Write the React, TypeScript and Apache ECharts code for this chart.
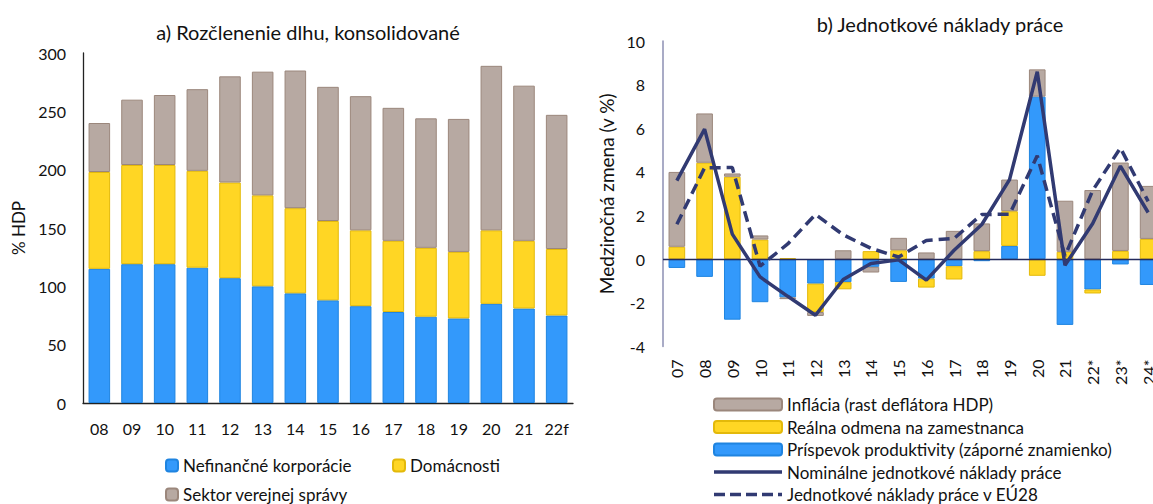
import React, { useEffect, useRef } from "react";
import * as echarts from "echarts";

// ---- Left panel: debt breakdown (% HDP) ----
const leftCategories = ["08", "09", "10", "11", "12", "13", "14", "15", "16", "17", "18", "19", "20", "21", "22f"];
const nefinancne = [115, 119, 119, 116, 107, 100, 94, 88, 83, 78, 74, 72.5, 85, 81, 75];
const domacnosti = [83, 85, 85, 83, 82, 78, 73, 68, 65, 61, 59, 57, 63, 58, 57];
const sektor = [42, 56, 60, 70, 91, 106, 118, 115, 115, 114, 111, 114, 141, 133, 115];
const leftTicks = { min: 0, max: 300, interval: 50 };

// ---- Right panel: unit labour costs (y/y %) ----
const rightCategories = ["07", "08", "09", "10", "11", "12", "13", "14", "15", "16", "17", "18", "19", "20", "21", "22*", "23*", "24*"];
const produktivita = [-0.4, -0.81, -2.77, -1.97, -1.75, -1.12, -1.05, -0.35, -1.04, -0.89, -0.32, -0.09, 0.61, 7.45, -3.01, -1.39, -0.24, -1.18];
const realnaOdmena = [0.57, 4.42, 3.78, 0.9, 0.05, -1.3, -0.33, 0.37, 0.41, -0.41, -0.61, 0.37, 1.59, -0.76, 0.34, -0.18, 0.38, 0.93];
const inflacia = [3.43, 2.26, 0.15, 0.19, -0.08, -0.18, 0.41, -0.26, 0.57, 0.31, 1.3, 1.27, 1.45, 1.25, 2.34, 3.17, 4.05, 2.43];
const nominalne = [3.6, 5.96, 1.15, -0.81, -1.7, -2.57, -0.93, -0.2, -0.03, -0.96, 0.41, 1.59, 3.65, 8.59, -0.28, 1.64, 4.27, 2.14];
const eu28 = [1.6, 4.19, 4.2, -0.32, 0.7, 2.05, 1.12, 0.5, 0.1, 0.86, 0.95, 2.05, 2.06, 4.74, 0.15, 3.15, 5.1, 2.65];
const rightTicks = { min: -4, max: 10, interval: 2 };

const FONT = "Lato, 'Open Sans', sans-serif";
const BLUE = "#3399fb";
const BLUE_B = "#1f84e0";
const YELLOW = "#ffd624";
const YELLOW_B = "#e3b90a";
const GRAY = "#b7a9a2";
const GRAY_B = "#9b877c";
const NAVY = "#313a72";
const TXT = "#111111";

const SOLID_ICON =
  "path://M0,0h0.01v0.01h-0.01z M0,4.2h68v3.6h-68z M67.99,11.99h0.01v0.01h-0.01z";
const DASH_ICON =
  "path://M0,0h0.01v0.01h-0.01z M0,4.2h11v3.6h-11z M16,4.2h11v3.6h-11z M32,4.2h11v3.6h-11z M48,4.2h11v3.6h-11z M64,4.2h4v3.6h-4z M67.99,11.99h0.01v0.01h-0.01z";

export default function App() {
  const ref = useRef<HTMLDivElement>(null);

  useEffect(() => {
    if (!ref.current) return;
    const chart = echarts.init(ref.current, null, { renderer: "svg" });
    const barItem = (c: string, b: string) => ({ color: c, borderColor: b, borderWidth: 1 });
    const leftLegend = (name: string, left: number, top: number) => ({
      data: [name],
      left,
      top,
      padding: 0,
      itemWidth: 12,
      itemHeight: 12,
      textStyle: { fontFamily: FONT, fontSize: 17, color: TXT, lineHeight: 16 },
      selectedMode: false,
    });

    chart.setOption({
      animation: false,
      textStyle: { fontFamily: FONT, color: TXT },
      title: [
        {
          text: "a) Rozčlenenie dlhu, konsolidované",
          left: 303,
          top: 17,
          textAlign: "center",
          textStyle: { fontFamily: FONT, fontSize: 20, fontWeight: "normal", color: TXT },
        },
        {
          text: "b) Jednotkové náklady práce",
          left: 935,
          top: 9,
          textAlign: "center",
          textStyle: { fontFamily: FONT, fontSize: 20, fontWeight: "normal", color: TXT },
        },
      ],
      legend: [
        leftLegend("Nefinančné korporácie", 165, 457),
        leftLegend("Domácnosti", 392, 457),
        leftLegend("Sektor verejnej správy", 165, 486),
        {
          data: [
            { name: "Inflácia (rast deflátora HDP)" },
            { name: "Reálna odmena na zamestnanca" },
            { name: "Príspevok produktivity (záporné znamienko)" },
            {
              name: "Nominálne jednotkové náklady práce",
              icon: SOLID_ICON,
              itemStyle: { color: NAVY, borderWidth: 0 },
              lineStyle: { width: 0 },
            },
            {
              name: "Jednotkové náklady práce v EÚ28",
              icon: DASH_ICON,
              itemStyle: { color: NAVY, borderWidth: 0 },
              lineStyle: { width: 0 },
            },
          ],
          orient: "vertical",
          left: 713,
          top: 396,
          height: 200,
          padding: 0,
          itemWidth: 68,
          itemHeight: 12,
          itemGap: 5.5,
          textStyle: { fontFamily: FONT, fontSize: 17, color: TXT, lineHeight: 14 },
          selectedMode: false,
        },
      ],
      grid: [
        { left: 83, top: 53, width: 490, height: 350 },
        { left: 663, top: 41, width: 499, height: 305.5 },
      ],
      xAxis: [
        {
          type: "category",
          gridIndex: 0,
          data: leftCategories,
          axisLine: { lineStyle: { color: "#222", width: 1.3 } },
          axisTick: { show: false },
          axisLabel: { margin: 17, fontSize: 16, color: TXT, fontFamily: FONT },
        },
        {
          type: "category",
          gridIndex: 1,
          data: rightCategories,
          axisLine: { show: false, onZero: false },
          axisTick: { show: false },
          axisLabel: { margin: 13, fontSize: 16, color: TXT, fontFamily: FONT, rotate: 90 },
        },
      ],
      yAxis: [
        {
          type: "value",
          gridIndex: 0,
          min: leftTicks.min,
          max: leftTicks.max,
          interval: leftTicks.interval,
          name: "% HDP",
          nameLocation: "middle",
          nameGap: 56,
          nameTextStyle: { fontSize: 17, color: TXT, fontFamily: FONT },
          axisLine: { show: true, lineStyle: { color: "#222", width: 1.3 } },
          axisTick: { show: false },
          splitLine: { show: false },
          axisLabel: { margin: 17, fontSize: 16, color: TXT, fontFamily: FONT },
        },
        {
          type: "value",
          gridIndex: 1,
          min: rightTicks.min,
          max: rightTicks.max,
          interval: rightTicks.interval,
          name: "Medziročná zmena (v %)",
          nameLocation: "middle",
          nameGap: 47,
          nameTextStyle: { fontSize: 19, color: TXT, fontFamily: FONT },
          axisLine: { show: true, lineStyle: { color: "#8d8fb3", width: 1.5 } },
          axisTick: { show: false },
          splitLine: { show: false },
          axisLabel: { margin: 18, fontSize: 16, color: TXT, fontFamily: FONT },
        },
      ],
      series: [
        {
          name: "Nefinančné korporácie",
          type: "bar",
          stack: "left",
          xAxisIndex: 0,
          yAxisIndex: 0,
          data: nefinancne,
          barCategoryGap: "34%",
          itemStyle: barItem(BLUE, BLUE_B),
        },
        {
          name: "Domácnosti",
          type: "bar",
          stack: "left",
          xAxisIndex: 0,
          yAxisIndex: 0,
          data: domacnosti,
          itemStyle: barItem(YELLOW, YELLOW_B),
        },
        {
          name: "Sektor verejnej správy",
          type: "bar",
          stack: "left",
          xAxisIndex: 0,
          yAxisIndex: 0,
          data: sektor,
          itemStyle: barItem(GRAY, GRAY_B),
        },
        {
          name: "Príspevok produktivity (záporné znamienko)",
          type: "bar",
          stack: "right",
          xAxisIndex: 1,
          yAxisIndex: 1,
          data: produktivita,
          barCategoryGap: "40%",
          itemStyle: barItem(BLUE, BLUE_B),
          markLine: {
            silent: true,
            symbol: "none",
            label: { show: false },
            lineStyle: { color: "#232a5c", width: 1.3, type: "solid" },
            data: [{ yAxis: 0 }],
          },
        },
        {
          name: "Reálna odmena na zamestnanca",
          type: "bar",
          stack: "right",
          xAxisIndex: 1,
          yAxisIndex: 1,
          data: realnaOdmena,
          itemStyle: barItem(YELLOW, YELLOW_B),
        },
        {
          name: "Inflácia (rast deflátora HDP)",
          type: "bar",
          stack: "right",
          xAxisIndex: 1,
          yAxisIndex: 1,
          data: inflacia,
          itemStyle: barItem(GRAY, GRAY_B),
        },
        {
          name: "Nominálne jednotkové náklady práce",
          type: "line",
          xAxisIndex: 1,
          yAxisIndex: 1,
          data: nominalne,
          symbol: "none",
          z: 5,
          lineStyle: { color: NAVY, width: 3.5 },
          itemStyle: { color: NAVY },
        },
        {
          name: "Jednotkové náklady práce v EÚ28",
          type: "line",
          xAxisIndex: 1,
          yAxisIndex: 1,
          data: eu28,
          symbol: "none",
          z: 5,
          lineStyle: { color: NAVY, width: 3.5, type: [11, 6] },
          itemStyle: { color: NAVY },
        },
      ],
    });

    return () => chart.dispose();
  }, []);

  return (
    <div
      style={{ position: "absolute", left: 0, top: 0, width: 1153, height: 504, overflow: "hidden", background: "#fff" }}
    >
      <div ref={ref} style={{ width: 1175, height: 504 }} />
    </div>
  );
}
